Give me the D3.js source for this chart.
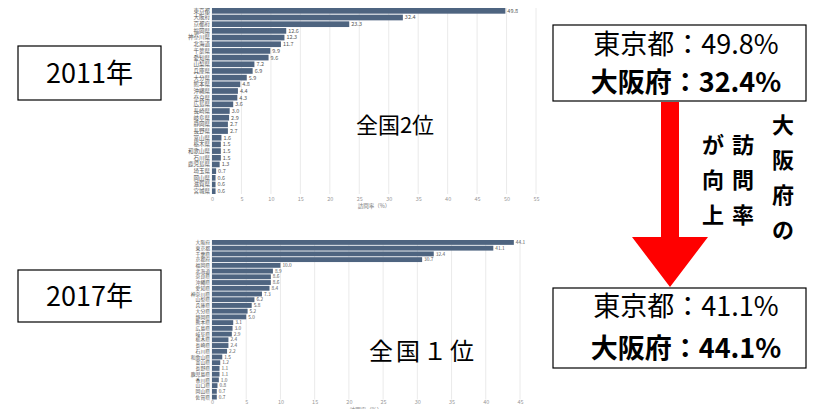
<!DOCTYPE html>
<html>
<head>
<meta charset="utf-8">
<script src="https://cdn.jsdelivr.net/npm/d3@7"></script>
<style>
  body { margin: 0; background: #fff; }
  svg { display: block; font-family: "Noto Sans CJK JP", "Noto Sans", sans-serif; }
</style>
</head>
<body>
<svg id="chart" width="826" height="409"></svg>
<script>
// 2011 visit rates by prefecture (%)
const prefs2011 = ['東京都','大阪府','京都府','福岡県','神奈川県','北海道','千葉県','愛知県','山梨県','兵庫県',
  '大分県','熊本県','沖縄県','奈良県','広島県','長崎県','岐阜県','静岡県','長野県','富山県',
  '栃木県','和歌山県','石川県','鹿児島県','埼玉県','岡山県','滋賀県','宮城県']
const values2011 = [49.8, 32.4, 23.3, 12.6, 12.3, 11.7, 9.9, 9.6, 7.2, 6.9,
  5.9, 4.8, 4.4, 4.3, 3.6, 3.0, 2.9, 2.7, 2.7, 1.6,
  1.5, 1.5, 1.5, 1.3, 0.7, 0.6, 0.6, 0.6]
const ticks2011 = [0, 5, 10, 15, 20, 25, 30, 35, 40, 45, 50, 55]

// 2017 visit rates by prefecture (%)
const prefs2017 = ['大阪府','東京都','千葉県','京都府','福岡県','北海道','奈良県','沖縄県','愛知県','神奈川県',
  '山梨県','兵庫県','大分県','静岡県','熊本県','広島県','岐阜県','栃木県','長崎県','石川県',
  '和歌山県','富山県','長野県','鹿児島県','香川県','山口県','岡山県','佐賀県']
const values2017 = [44.1, 41.1, 32.4, 30.7, 10.0, 8.9, 8.6, 8.6, 8.4, 7.3,
  6.2, 5.8, 5.2, 5.0, 3.1, 3.0, 2.9, 2.4, 2.4, 2.2,
  1.5, 1.2, 1.1, 1.1, 1.0, 0.8, 0.7, 0.7]
const ticks2017 = [0, 5, 10, 15, 20, 25, 30, 35, 40, 45]

const svg = d3.select('#chart')
const barColor = '#4e6480'

function barChart(opt) {
    const x = d3.scaleLinear().domain(opt.domain).range(opt.xRange)
    const y = d3.scaleBand().domain(opt.cats).range(opt.yRange).paddingInner(0.15)
    const g = svg.append('g')

    // vertical grid
    g.selectAll('line.grid')
        .data(opt.ticks)
      .enter().append('line')
        .attr('class', 'grid')
        .attr('x1', d => x(d)).attr('x2', d => x(d))
        .attr('y1', opt.yRange[0]).attr('y2', opt.yRange[1])
        .attr('stroke', '#e4e4e4')
        .attr('stroke-width', 0.8)

    const rows = opt.cats.map((c, i) => ({ cat: c, v: opt.vals[i] }))

    g.selectAll('rect')
        .data(rows)
      .enter().append('rect')
        .attr('x', x(0))
        .attr('y', d => y(d.cat))
        .attr('width', d => x(d.v) - x(0))
        .attr('height', y.bandwidth())
        .attr('fill', barColor)

    g.selectAll('text.cat')
        .data(rows)
      .enter().append('text')
        .attr('class', 'cat')
        .attr('x', x(0) - 2)
        .attr('y', d => y(d.cat) + y.bandwidth() / 2)
        .attr('dy', '0.35em')
        .attr('text-anchor', 'end')
        .attr('font-size', opt.fs)
        .attr('fill', '#555')
        .text(d => d.cat)

    g.selectAll('text.val')
        .data(rows)
      .enter().append('text')
        .attr('class', 'val')
        .attr('x', d => x(d.v) + 2)
        .attr('y', d => y(d.cat) + y.bandwidth() / 2)
        .attr('dy', '0.35em')
        .attr('font-size', opt.fs)
        .attr('fill', '#555')
        .text(d => d.v.toFixed(1))

    const axis = g.append('g')
        .attr('transform', `translate(0,${opt.axisY})`)
        .call(d3.axisBottom(x).tickValues(opt.ticks).tickSize(0).tickFormat(d3.format('d')))
    axis.select('.domain').remove()
    axis.selectAll('text')
        .attr('font-size', 5.5)
        .attr('fill', '#999')
        .attr('font-family', '"Noto Sans CJK JP", sans-serif')

    g.append('text')
        .attr('x', (opt.xRange[0] + opt.xRange[1]) / 2)
        .attr('y', opt.titleY)
        .attr('text-anchor', 'middle')
        .attr('font-size', 5.5)
        .attr('fill', '#777')
        .text('訪問率（%）')
}

barChart({ cats: prefs2011, vals: values2011, ticks: ticks2011, domain: [0, 55], fs: 5.5,
    xRange: [212, 536], yRange: [8, 194], axisY: 194, titleY: 208 })
barChart({ cats: prefs2017, vals: values2017, ticks: ticks2017, domain: [0, 45], fs: 4.8,
    xRange: [212, 520], yRange: [240, 399.5], axisY: 397.5, titleY: 412 })

// year boxes
function box(x, y, w, h) {
    svg.append('rect')
        .attr('x', x).attr('y', y).attr('width', w).attr('height', h)
        .attr('fill', '#fff').attr('stroke', '#000').attr('stroke-width', 1.2)
}
box(18, 46, 143, 54)
box(18, 270, 143, 52)
svg.append('text').attr('x', 89.5).attr('y', 83).attr('text-anchor', 'middle')
    .attr('font-size', 27).text('2011年')
svg.append('text').attr('x', 89.5).attr('y', 306).attr('text-anchor', 'middle')
    .attr('font-size', 27).text('2017年')

// rank labels
svg.append('text').attr('x', 395).attr('y', 133).attr('text-anchor', 'middle')
    .attr('font-size', 22).text('全国2位')
svg.append('text').attr('x', 423).attr('y', 360).attr('text-anchor', 'middle')
    .attr('font-size', 24).attr('letter-spacing', 3).text('全国１位')

// result boxes
box(553, 25, 253, 76)
box(553, 288, 253, 80)
const resultLines = [
    { t: '東京都：49.8%', y: 54, bold: false },
    { t: '大阪府：32.4%', y: 92, bold: true },
    { t: '東京都：41.1%', y: 316, bold: false },
    { t: '大阪府：44.1%', y: 358, bold: true }
]
svg.selectAll('text.res')
    .data(resultLines)
  .enter().append('text')
    .attr('class', 'res')
    .attr('x', 686).attr('y', d => d.y)
    .attr('text-anchor', 'middle')
    .attr('font-size', 27)
    .attr('font-weight', d => d.bold ? 700 : 400)
    .text(d => d.t)

// red arrow
svg.append('path')
    .attr('d', 'M661,102 L679,102 L679,237 L708,237 L670,287 L632,237 L661,237 Z')
    .attr('fill', '#ff0000')

// vertical caption (right to left columns)
const columns = [
    { chars: ['大', '阪', '府', 'の'], x: 783, y0: 125 },
    { chars: ['訪', '問', '率'], x: 743, y0: 145 },
    { chars: ['が', '向', '上'], x: 713, y0: 145 }
]
columns.forEach(col => {
    col.chars.forEach((ch, i) => {
        svg.append('text')
            .attr('x', col.x).attr('y', col.y0 + i * 35)
            .attr('dy', '0.35em')
            .attr('text-anchor', 'middle')
            .attr('font-size', 22)
            .attr('font-weight', 700)
            .text(ch)
    })
})
</script>
</body>
</html>
